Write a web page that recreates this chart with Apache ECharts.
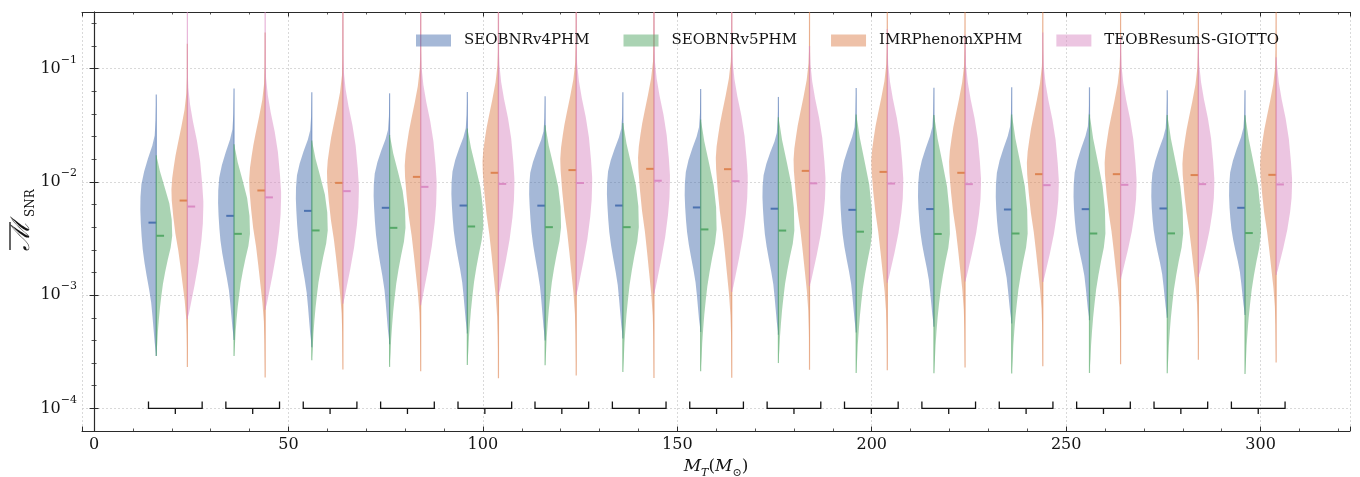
<!DOCTYPE html>
<html><head><meta charset="utf-8">
<script src="https://cdn.jsdelivr.net/npm/echarts@6/dist/echarts.min.js"></script>
<style>html,body{margin:0;padding:0;background:#fff}#c{width:1360px;height:477px}</style>
</head><body><div id="c"></div>
<script>
// ---------------- data (all y values are log10 of the mismatch) ----------------
const groups = [20, 40, 60, 80, 100, 120, 140, 160, 180, 200, 220, 240, 260, 280, 300];
const modelNames = ['SEOBNRv4PHM', 'SEOBNRv5PHM', 'IMRPhenomXPHM', 'TEOBResumS-GIOTTO'];

const v4MedianLog10 = [-2.36, -2.30, -2.256, -2.229, -2.209, -2.21, -2.209, -2.226, -2.237, -2.247, -2.24, -2.244, -2.241, -2.235, -2.229];
const v4LowLog10    = [-3.537, -3.397, -3.46, -3.434, -3.34, -3.40, -3.384, -3.325, -3.35, -3.33, -3.28, -3.25, -3.222, -3.20, -3.175];
const v4HighLog10   = [-1.229, -1.176, -1.209, -1.218, -1.206, -1.245, -1.209, -1.18, -1.25, -1.171, -1.17, -1.165, -1.165, -1.19, -1.19];

const v5MedianLog10 = [-2.476, -2.459, -2.429, -2.406, -2.394, -2.40, -2.40, -2.42, -2.43, -2.44, -2.46, -2.456, -2.456, -2.455, -2.452];
const v5LowLog10    = [-3.537, -3.537, -3.575, -3.634, -3.618, -3.62, -3.678, -3.673, -3.60, -3.687, -3.69, -3.693, -3.687, -3.69, -3.696];
const v5HighLog10   = [-1.765, -1.668, -1.635, -1.585, -1.529, -1.50, -1.48, -1.45, -1.43, -1.406, -1.41, -1.406, -1.406, -1.41, -1.412];

const xphmMedianLog10 = [-2.165, -2.076, -2.009, -1.956, -1.92, -1.896, -1.885, -1.888, -1.903, -1.912, -1.92, -1.932, -1.932, -1.94, -1.938];
const xphmLowLog10    = [-3.634, -3.728, -3.658, -3.672, -3.735, -3.71, -3.731, -3.73, -3.66, -3.663, -3.64, -3.628, -3.61, -3.57, -3.596];
const xphmHighLog10   = [-0.78, -0.68, -0.3, -0.3, -0.3, -0.3, -0.3, -0.3, -0.3, -0.3, -0.3, -0.3, -0.3, -0.3, -0.3];

const giottoMedianLog10 = [-2.218, -2.137, -2.082, -2.044, -2.018, -2.01, -1.99, -1.994, -2.013, -2.015, -2.02, -2.029, -2.026, -2.02, -2.023];
const giottoLowLog10    = [-3.21, -3.13, -3.076, -3.09, -3.0, -3.0, -2.988, -2.973, -2.92, -2.89, -2.88, -2.884, -2.855, -2.84, -2.823];
const giottoHighLog10   = [-0.3, -0.3, -0.3, -0.3, -0.3, -0.3, -0.3, -0.3, -0.8, -0.65, -0.7, -0.68, -0.72, -0.75, -0.9];

// density profiles: [position, relative width]
// 'frac' position = fraction of the way from the median to the end; 'dL' = offset in log10 above median
const v4Upper = [[0, 0.97], [0.1, 1.0], [0.2, 0.99], [0.3, 0.93], [0.4, 0.76], [0.5, 0.52], [0.6, 0.25], [0.68, 0.1], [0.8, 0.04], [1.0, 0]];
const v4Lower = [[0, 0.97], [0.1, 0.92], [0.2, 0.85], [0.3, 0.74], [0.4, 0.6], [0.5, 0.45], [0.6, 0.32], [0.7, 0.24], [0.8, 0.17], [0.9, 0.1], [1.0, 0]];
const v5Upper = [[0, 1.0], [0.2, 0.97], [0.4, 0.82], [0.6, 0.53], [0.8, 0.23], [0.92, 0.1], [1.0, 0]];
const v5Lower = [[0, 1.0], [0.1, 0.9], [0.2, 0.72], [0.3, 0.56], [0.4, 0.42], [0.5, 0.32], [0.6, 0.23], [0.7, 0.16], [0.8, 0.1], [0.9, 0.06], [1.0, 0]];
const xphmUpperDL = [[0, 0.98], [0.1, 1.0], [0.2, 0.95], [0.3, 0.85], [0.4, 0.74], [0.5, 0.6], [0.65, 0.38], [0.8, 0.18], [0.95, 0.06], [1.1, 0.02]];
const xphmLower = [[0, 0.98], [0.1, 0.88], [0.2, 0.75], [0.3, 0.57], [0.4, 0.43], [0.5, 0.3], [0.6, 0.17], [0.7, 0.08], [0.8, 0.04], [1.0, 0]];
const giottoUpperDL = [[0, 1.0], [0.05, 1.0], [0.2, 0.93], [0.4, 0.8], [0.58, 0.6], [0.75, 0.35], [0.9, 0.17], [1.05, 0.06], [1.2, 0.02]];
const giottoLower = [[0, 1.0], [0.15, 0.97], [0.3, 0.88], [0.5, 0.7], [0.7, 0.45], [0.85, 0.24], [0.95, 0.1], [1.0, 0]];

const bracketCenters = [20.9, 40.8, 60.7, 80.6, 100.5, 120.3, 140.2, 160.1, 180.0, 199.9, 219.8, 239.7, 259.6, 279.5, 299.4];
const bracketLevelLog10 = -4.0, bracketArmLog10 = -3.94, bracketTickLog10 = -4.05;

const xTicksMajor = 50, xTicksMinor = 10;
// ---------------- style constants ----------------
const HALF_W = 4.1, DASH_W = 2.0, BRACKET_HALF = 6.9, PAIR_OFFSET = 4;
const FONT = 'DejaVu Serif';
const INK = '#141414', FRAME = '#2a2a2a';

const models = [
  {name: modelNames[0], off: -PAIR_OFFSET, side: -1, med: v4MedianLog10, lo: v4LowLog10, hi: v4HighLog10, up: v4Upper, upMode: 'frac', low: v4Lower, color: '#4C72B0', fill: 'rgba(76,114,176,0.5)', edge: 'rgba(76,114,176,0.6)'},
  {name: modelNames[1], off: -PAIR_OFFSET, side: 1, med: v5MedianLog10, lo: v5LowLog10, hi: v5HighLog10, up: v5Upper, upMode: 'frac', low: v5Lower, color: '#55A868', fill: 'rgba(85,168,104,0.5)', edge: 'rgba(85,168,104,0.6)'},
  {name: modelNames[2], off: PAIR_OFFSET, side: -1, med: xphmMedianLog10, lo: xphmLowLog10, hi: xphmHighLog10, up: xphmUpperDL, upMode: 'dL', low: xphmLower, color: '#DD8452', fill: 'rgba(221,132,82,0.5)', edge: 'rgba(221,132,82,0.6)'},
  {name: modelNames[3], off: PAIR_OFFSET, side: 1, med: giottoMedianLog10, lo: giottoLowLog10, hi: giottoHighLog10, up: giottoUpperDL, upMode: 'dL', low: giottoLower, color: '#DA8BC3', fill: 'rgba(218,139,195,0.5)', edge: 'rgba(218,139,195,0.6)'}
];

function renderHalf(params, api, m) {
  const xc = api.value(0), med = api.value(1), lo = api.value(2), hi = api.value(3);
  const hwPx = api.size([HALF_W, 0])[0];
  const prof = [];
  for (let k = m.low.length - 1; k >= 0; k--) {
    const f = m.low[k][0], w = m.low[k][1];
    prof.push([med - f * (med - lo), w]);
  }
  if (m.upMode === 'frac') {
    for (const [f, w] of m.up) if (f > 0) prof.push([med + f * (hi - med), w]);
  } else {
    for (const [d, w] of m.up) if (d > 0 && med + d < hi) prof.push([med + d, w]);
    prof.push([hi, 0]);
  }
  const pts = prof.map(([L, w]) => {
    const p = api.coord([xc, L]);
    return [p[0] + m.side * w * hwPx, p[1]];
  });
  const top = api.coord([xc, hi]), bot = api.coord([xc, lo]);
  pts.push(top, bot);
  const mp = api.coord([xc, med]), mp2 = api.coord([xc + m.side * DASH_W, med]);
  return {
    type: 'group',
    children: [
      {type: 'polygon', shape: {points: pts}, style: {fill: m.fill, stroke: null}},
      {type: 'line', shape: {x1: bot[0], y1: bot[1], x2: top[0], y2: top[1]}, style: {stroke: m.edge, lineWidth: 1.2}},
      {type: 'line', shape: {x1: mp[0], y1: mp[1], x2: mp2[0], y2: mp2[1]}, style: {stroke: m.color, lineWidth: 2}}
    ]
  };
}

const series = models.map(m => ({
  type: 'custom', name: m.name, clip: true, silent: true,
  xAxisIndex: 0, yAxisIndex: 0,
  itemStyle: {color: m.fill},
  encode: {x: 0, y: 1},
  data: groups.map((g, i) => [g + m.off, m.med[i], m.lo[i], m.hi[i]]),
  renderItem: (params, api) => renderHalf(params, api, m)
}));

series.push({
  type: 'custom', name: 'brackets', silent: true, xAxisIndex: 0, yAxisIndex: 0,
  encode: {x: 0, y: 1},
  data: bracketCenters.map(c => [c, bracketLevelLog10]),
  renderItem: (params, api) => {
    const c = api.value(0), y = api.value(1);
    const a = api.coord([c - BRACKET_HALF, bracketArmLog10]);
    const b = api.coord([c - BRACKET_HALF, y]);
    const d = api.coord([c + BRACKET_HALF, y]);
    const e = api.coord([c + BRACKET_HALF, bracketArmLog10]);
    const t1 = api.coord([c, y]), t2 = api.coord([c, bracketTickLog10]);
    const st = {stroke: INK, lineWidth: 1.3, fill: null};
    return {type: 'group', children: [
      {type: 'polyline', shape: {points: [a, b, d, e]}, style: st},
      {type: 'line', shape: {x1: t1[0], y1: t1[1], x2: t2[0], y2: t2[1]}, style: st}
    ]};
  }
});

const XMIN = -3.1, XMAX = 323, YMIN = -4.2, YMAX = -0.5;
const gridLine = {show: true, lineStyle: {color: '#d0d0d0', type: [2, 2], width: 0.8}};
const frameLine = {show: true, lineStyle: {color: FRAME, width: 1.1}};
const tickMajor = {show: true, inside: true, length: 4.5, lineStyle: {color: FRAME, width: 1}};
const tickMinor = {show: true, inside: true, length: 2.5, lineStyle: {color: FRAME, width: 0.8}};

function xAx(pos, step, major, labels) {
  return {
    type: 'value', gridIndex: 0, position: pos, min: XMIN, max: XMAX,
    minInterval: step, maxInterval: step, splitNumber: 6,
    axisLine: major ? frameLine : {show: false},
    axisTick: major ? tickMajor : tickMinor,
    splitLine: (major && labels) ? gridLine : {show: false},
    axisLabel: labels ? {
      show: true, margin: 6, color: INK, fontFamily: FONT, fontSize: 16,
      formatter: v => (Math.abs(v / xTicksMajor - Math.round(v / xTicksMajor)) < 1e-6 ? String(Math.round(v)) : '')
    } : {show: false}
  };
}
function yAx(pos, step, major, labels) {
  return {
    type: 'value', gridIndex: 0, position: pos, min: YMIN, max: YMAX,
    minInterval: step, maxInterval: step, splitNumber: 4,
    axisLine: major ? frameLine : {show: false},
    axisTick: major ? tickMajor : tickMinor,
    splitLine: (major && labels) ? gridLine : {show: false},
    axisLabel: labels ? {
      show: true, margin: 5, color: INK, fontFamily: FONT,
      formatter: v => (Math.abs(v - Math.round(v)) < 1e-6 ? '{b|10}{s|\u2212' + Math.abs(Math.round(v)) + '}' : ''),
      rich: {
        b: {fontFamily: FONT, fontSize: 16, lineHeight: 28, verticalAlign: 'middle', color: INK},
        s: {fontFamily: FONT, fontSize: 11, lineHeight: 11, verticalAlign: 'top', color: INK}
      }
    } : {show: false}
  };
}

const xAxes = [xAx('bottom', xTicksMajor, true, true), xAx('bottom', xTicksMinor, false, false),
               xAx('top', xTicksMajor, true, false), xAx('top', xTicksMinor, false, false)];
xAxes[0].name = '{i|M}{st|T}{r|(}{i|M}{so|\u2299}{r|)}';
xAxes[0].nameLocation = 'middle';
xAxes[0].nameGap = 22;
xAxes[0].nameTextStyle = {rich: {
  i: {fontFamily: FONT, fontStyle: 'italic', fontSize: 17, lineHeight: 24, color: INK},
  r: {fontFamily: FONT, fontSize: 17, lineHeight: 24, color: INK},
  st: {fontFamily: FONT, fontStyle: 'italic', fontSize: 11, lineHeight: 11, verticalAlign: 'bottom', color: INK},
  so: {fontFamily: FONT, fontSize: 11, lineHeight: 11, verticalAlign: 'bottom', color: INK}
}};

const yAxes = [yAx('left', 1, true, true), yAx('left', 0.2, false, false),
               yAx('right', 1, true, false), yAx('right', 0.2, false, false)];

const chart = echarts.init(document.getElementById('c'), null, {renderer: 'canvas'});
chart.setOption({
  animation: false,
  backgroundColor: '#fff',
  textStyle: {fontFamily: FONT},
  grid: {left: 82, right: 10, top: 12, bottom: 46, containLabel: false, outerBoundsMode: 'none'},
  legend: {
    data: modelNames, left: 411, top: 28, orient: 'horizontal',
    itemWidth: 35, itemHeight: 12, itemGap: 34, icon: 'rect', selectedMode: false,
    textStyle: {fontFamily: FONT, fontSize: 15, color: INK, padding: [0, 0, 0, 8]}
  },
  xAxis: xAxes,
  yAxis: yAxes,
  graphic: [{
    type: 'group', x: 22, y: 236, rotation: Math.PI / 2, silent: true,
    children: [
      {type: 'text', x: 0, y: 0, style: {text: '\u2133', font: 'italic 26px "DejaVu Serif"', fill: INK, align: 'center', verticalAlign: 'middle'}},
      {type: 'text', x: 33, y: 9, style: {text: 'SNR', font: '12px "DejaVu Serif"', fill: INK, align: 'center', verticalAlign: 'middle'}},
      {type: 'line', shape: {x1: -14, y1: -12, x2: 14, y2: -12}, style: {stroke: INK, lineWidth: 1.3}}
    ]
  }],
  series: series
});
</script></body></html>
